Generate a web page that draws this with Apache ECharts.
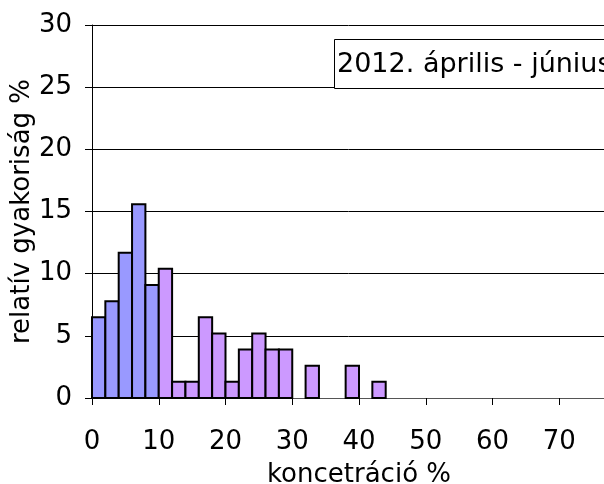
<!DOCTYPE html>
<html>
<head>
<meta charset="utf-8">
<script src="https://cdn.jsdelivr.net/npm/echarts@6/dist/echarts.min.js"></script>
<style>
html,body{margin:0;padding:0;background:#fff;}
#chart{width:604px;height:484px;}
</style>
</head>
<body>
<div id="chart"></div>
<script>
// Histogram bins (concentration %, bin start / end) and relative frequency (%)
const blueBinStart = [0, 2, 4, 6, 8];
const blueBinEnd   = [2, 4, 6, 8, 10];
const blueValues   = [6.49, 7.79, 11.69, 15.58, 9.09];

const purpleBinStart = [10, 12, 14, 16, 18, 20, 22, 24, 26, 28, 32, 38, 42];
const purpleBinEnd   = [12, 14, 16, 18, 20, 22, 24, 26, 28, 30, 34, 40, 44];
const purpleValues   = [10.39, 1.30, 1.30, 6.49, 5.19, 1.30, 3.90, 5.19, 3.90, 3.90, 2.60, 2.60, 1.30];

const xTicks = [0, 10, 20, 30, 40, 50, 60, 70, 80];
const yTicks = [0, 5, 10, 15, 20, 25, 30];

const titleText = '2012. április - június';
const xName = 'koncetráció %';
const yName = 'relatív gyakoriság %';

const FONT = 'DejaVu Sans';

function toData(starts, ends, vals) {
  return starts.map((s, i) => [s, ends[i], vals[i]]);
}
function makeRender(color) {
  return function (params, api) {
    const s = api.value(0), e = api.value(1), v = api.value(2);
    const p0 = api.coord([s, v]);
    const p1 = api.coord([e, 0]);
    return {
      type: 'rect',
      shape: { x: p0[0], y: p0[1], width: p1[0] - p0[0], height: p1[1] - p0[1] },
      style: { fill: color, stroke: '#000', lineWidth: 2 }
    };
  };
}

const chart = echarts.init(document.getElementById('chart'), null, { renderer: 'canvas' });
chart.setOption({
  animation: false,
  backgroundColor: '#fff',
  textStyle: { fontFamily: FONT },
  title: {
    text: titleText,
    left: 334,
    top: 39,
    padding: [12, 6, 11, 3],
    borderColor: '#000',
    borderWidth: 1,
    backgroundColor: '#fff',
    textStyle: { fontFamily: FONT, fontSize: 27, fontWeight: 'normal', color: '#000' }
  },
  grid: { left: 92, width: 534, top: 25, height: 373, containLabel: false, outerBoundsMode: 'none' },
  xAxis: {
    type: 'value',
    min: xTicks[0],
    max: xTicks[xTicks.length - 1],
    interval: 10,
    name: xName,
    nameLocation: 'middle',
    nameGap: 64,
    nameMoveOverlap: false,
    nameTextStyle: { fontFamily: FONT, fontSize: 26, color: '#000' },
    axisLine: { show: true, lineStyle: { color: '#555', width: 1 } },
    axisTick: { show: true, inside: false, length: 7, lineStyle: { color: '#000' } },
    axisLabel: { fontFamily: FONT, fontSize: 26, color: '#000', margin: 31 },
    splitLine: { show: false }
  },
  yAxis: {
    type: 'value',
    min: yTicks[0],
    max: yTicks[yTicks.length - 1],
    interval: 5,
    name: yName,
    nameLocation: 'middle',
    nameGap: 57,
    nameMoveOverlap: false,
    nameTextStyle: { fontFamily: FONT, fontSize: 26, color: '#000' },
    axisLine: { show: true, lineStyle: { color: '#000', width: 1 } },
    axisTick: { show: true, inside: false, length: 7, lineStyle: { color: '#000' } },
    axisLabel: { fontFamily: FONT, fontSize: 26, color: '#000', margin: 20 },
    splitLine: { show: true, lineStyle: { color: '#000', width: 1 } }
  },
  series: [
    {
      type: 'custom',
      renderItem: makeRender('#9999FF'),
      encode: { x: [0, 1], y: 2 },
      data: toData(blueBinStart, blueBinEnd, blueValues),
      z: 3
    },
    {
      type: 'custom',
      renderItem: makeRender('#CC99FF'),
      encode: { x: [0, 1], y: 2 },
      data: toData(purpleBinStart, purpleBinEnd, purpleValues),
      z: 3
    }
  ]
});
</script>
</body>
</html>
